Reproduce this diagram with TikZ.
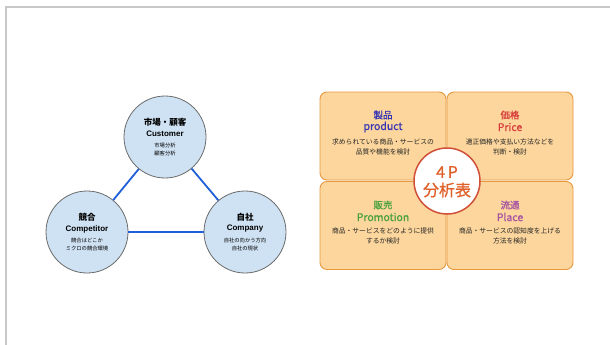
\documentclass[tikz,border=0pt]{standalone}
\usepackage{fontspec}
\setmainfont{Liberation Sans}
\newfontfamily\jp{Noto Sans CJK JP}
\newfontfamily\jpm[FakeBold=0.9]{Noto Sans CJK JP}
\definecolor{circfill}{HTML}{CFE2F3}
\definecolor{circline}{HTML}{6B6B6B}
\definecolor{edgeblue}{HTML}{1F5FD8}
\definecolor{boxfill}{HTML}{FCD69C}
\definecolor{boxline}{HTML}{E8983F}
\definecolor{ringred}{HTML}{D0503A}
\definecolor{ringtext}{HTML}{E0602A}
\definecolor{cprod}{HTML}{3535B5}
\definecolor{cprice}{HTML}{D63A3A}
\definecolor{cpromo}{HTML}{45A03C}
\definecolor{cplace}{HTML}{A54FA3}
\definecolor{framegray}{HTML}{C8C8C8}
\tikzset{
  circ/.style={circle, draw=circline, line width=0.8pt, fill=circfill, minimum size=82pt, inner sep=0pt},
  conn/.style={draw=edgeblue, line width=1.8pt},
  ctitle/.style={font=\jp\bfseries\fontsize{8.5}{10}\selectfont, inner sep=0pt},
  cname/.style={font=\bfseries\fontsize{8}{10}\selectfont, inner sep=0pt},
  csmall/.style={font=\jp\fontsize{5.3}{6}\selectfont, inner sep=0pt},
  pbox/.style={rectangle, rounded corners=7pt, draw=boxline, line width=0.9pt, fill=boxfill, minimum width=126pt, minimum height=88pt, inner sep=0pt},
  ptitle/.style={font=\jpm\fontsize{9.5}{11}\selectfont, inner sep=0pt},
  pname/.style={font=\jpm\fontsize{10.5}{12}\selectfont, inner sep=0pt},
  pdesc/.style={font=\jp\fontsize{6.8}{8}\selectfont, inner sep=0pt, text=black!85},
  ring/.style={circle, draw=ringred, line width=1.5pt, fill=white, minimum size=66pt, inner sep=0pt},
  ringtxt/.style={font=\jpm\fontsize{16}{18}\selectfont, text=ringtext, inner sep=0pt}
}
\begin{document}
\begin{tikzpicture}[x=1pt,y=-1pt]
\useasboundingbox (0,0) rectangle (610,345);
\fill[white] (0,0) rectangle (610,345);
\coordinate (f1) at (6,345);
\coordinate (f2) at (6,7);
\coordinate (f3) at (610,7);
\draw[framegray, line width=1.6pt] (f1) -- (f2) -- (f3);

% triangle of circles
\node[circ] (cust) at (165,137) {};
\node[circ] (compe) at (87,232) {};
\node[circ] (compa) at (245,232) {};
\draw[conn] (cust) -- (compe);
\draw[conn] (cust) -- (compa);
\draw[conn] (compe) -- (compa);

\node[ctitle] (t1) at (165,122) {市場・顧客};
\node[cname] (n1) at (165,134) {Customer};
\node[csmall] (s1a) at (165,145) {市場分析};
\node[csmall] (s1b) at (165,153) {顧客分析};

\node[ctitle] (t2) at (87,217) {競合};
\node[cname] (n2) at (87,229) {Competitor};
\node[csmall] (s2a) at (87,240) {競合はどこか};
\node[csmall] (s2b) at (87,248) {ミクロの競合環境};

\node[ctitle] (t3) at (245,217) {自社};
\node[cname] (n3) at (245,229) {Company};
\node[csmall] (s3a) at (245,240) {自社の向かう方向};
\node[csmall] (s3b) at (245,248) {自社の現状};

% 4P boxes
\node[pbox] (prod) at (383,136) {};
\node[pbox] (price) at (510,136) {};
\node[pbox] (promo) at (383,225.5) {};
\node[pbox] (place) at (510,225.5) {};

\node[ptitle, text=cprod] (pt1) at (383,115) {製品};
\node[pname, text=cprod] (pn1) at (383,127) {product};
\node[pdesc] (pd1a) at (383,142) {求められている商品・サービスの};
\node[pdesc] (pd1b) at (383,152) {品質や機能を検討};

\node[ptitle, text=cprice] (pt2) at (510,115) {価格};
\node[pname, text=cprice] (pn2) at (510,127) {Price};
\node[pdesc] (pd2a) at (510,142) {適正価格や支払い方法などを};
\node[pdesc] (pd2b) at (510,152) {判断・検討};

\node[ptitle, text=cpromo] (pt3) at (383,205) {販売};
\node[pname, text=cpromo] (pn3) at (383,217) {Promotion};
\node[pdesc] (pd3a) at (383,231) {商品・サービスをどのように提供};
\node[pdesc] (pd3b) at (383,241) {するか検討};

\node[ptitle, text=cplace] (pt4) at (510,205) {流通};
\node[pname, text=cplace] (pn4) at (510,217) {Place};
\node[pdesc] (pd4a) at (510,231) {商品・サービスの認知度を上げる};
\node[pdesc] (pd4b) at (510,241) {方法を検討};

\node[ring] (core) at (447,181) {};
\node[ringtxt] (r1) at (447,172) {4\,P};
\node[ringtxt] (r2) at (447,190) {分析表};
\end{tikzpicture}
\end{document}
